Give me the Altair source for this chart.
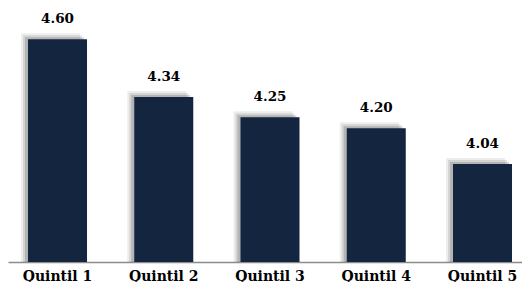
import altair as alt
import pandas as pd

categories = ["Quintil 1", "Quintil 2", "Quintil 3", "Quintil 4", "Quintil 5"]
values = [4.60, 4.34, 4.25, 4.20, 4.04]
labels = ["4.60", "4.34", "4.25", "4.20", "4.04"]

df = pd.DataFrame({"cat": categories, "val": values, "lab": labels})

FONT = "DejaVu Serif"

x = alt.X("cat:N", sort=categories, title=None,
          scale=alt.Scale(paddingInner=0.4447, paddingOuter=0.1412, align=0.667),
          axis=alt.Axis(labelAngle=0, labelFont=FONT, labelFontSize=14,
                        labelFontWeight="bold", labelColor="#000000", labelPadding=7,
                        ticks=False, domainColor="#8c8c8c", domainWidth=1.5))
y = alt.Y("val:Q", scale=alt.Scale(domain=[3.6, 4.74], zero=False, nice=False),
          axis=None)

base = alt.Chart(df)
shadows = [
    base.mark_bar(color="#000000", opacity=op, xOffset=dx, yOffset=dy).encode(
        x=x, y=y, y2=alt.datum(3.6))
    for op, dx, dy in [(0.07, -7, -6), (0.10, -5, -4), (0.15, -3, -2)]
]
bars = base.mark_bar(color="#13253f").encode(x=x, y=y, y2=alt.datum(3.6))
text = base.mark_text(font=FONT, fontSize=13.5, fontWeight="bold",
                      color="#000000", baseline="alphabetic", dy=-16).encode(
    x=x, y=y, text="lab:N")

chart = alt.layer(*shadows, bars, text).properties(
    width=514, height=254,
    padding={"left": 0, "top": 0, "right": 0, "bottom": 20},
    autosize=alt.AutoSizeParams(type="none"),
).configure_view(stroke=None)

chart.save("out.html", embed_options={"renderer": "svg", "actions": False})
